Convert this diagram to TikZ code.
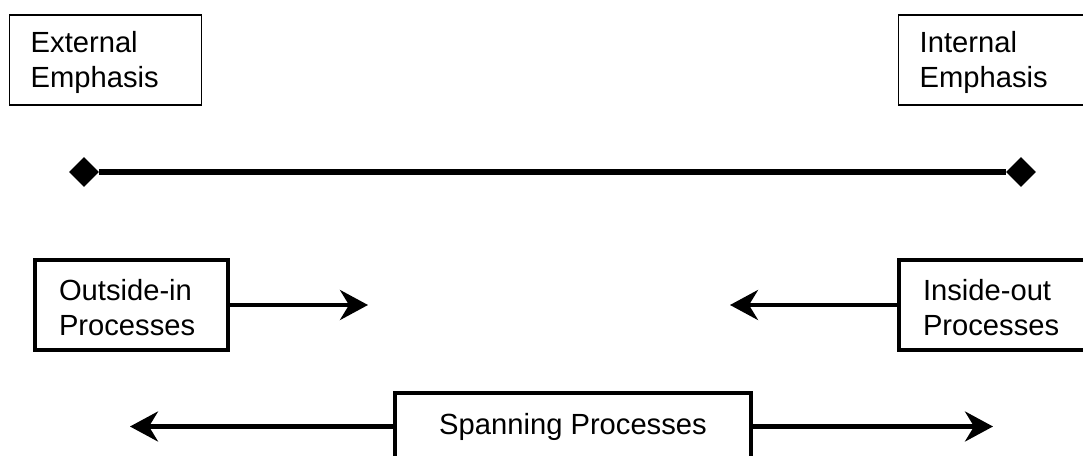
\documentclass[tikz,border=0pt]{standalone}
\usepackage{fontspec}
\setmainfont{Liberation Sans}
\usetikzlibrary{arrows.meta,shapes.geometric}
\begin{document}
\begin{tikzpicture}[
  x=0.02cm, y=-0.02cm,
  font=\fontsize{16.6}{20}\selectfont,
  emph/.style={draw=black,line width=0.85pt,align=left,text width=3cm,inner xsep=0.42cm,minimum height=1.8cm,anchor=west,
    execute at begin node={\rule{0pt}{15.3pt}}},
  proc/.style={draw=black,line width=2.3pt,align=left,text width=2.9cm,inner xsep=0.48cm,minimum height=1.8cm,anchor=west,
    execute at begin node={\rule{0pt}{15.3pt}}},
  span/.style={draw=black,line width=2.3pt,align=center,minimum width=7.12cm,minimum height=1.34cm},
  end/.style={diamond,fill=black,minimum size=0.6cm,inner sep=0pt},
  arr/.style={line width=2.3pt,-{Stealth[length=0.56cm,width=0.6cm,inset=0.18cm]}},
]

\useasboundingbox (0,0) rectangle (1083,456);

% ---- emphasis boxes ----
\node[emph] (ext) at (9,60) {External\\Emphasis};
\node[emph] (int) at (898,60) {Internal\\Emphasis};

% ---- the scale ----
\node[end] (ldia) at (84,172) {};
\node[end] (rdia) at (1021,172) {};
\draw[line width=3.4pt] (ldia) -- (rdia);

% ---- processes ----
\node[proc] (oin) at (33,305) {Outside-in\\Processes};
\node[proc] (iout) at (897,305) {Inside-out\\Processes};
\node[span] (spn) at (573,426.5) {Spanning Processes};

\coordinate (oinend) at (368,305);
\coordinate (ioutend) at (730,305);
\coordinate (spnleft) at (130,426.5);
\coordinate (spnright) at (993,426.5);

\draw[arr] (oin) -- (oinend);
\draw[arr] (iout) -- (ioutend);
\draw[arr] (spn) -- (spnleft);
\draw[arr] (spn) -- (spnright);

\end{tikzpicture}
\end{document}
